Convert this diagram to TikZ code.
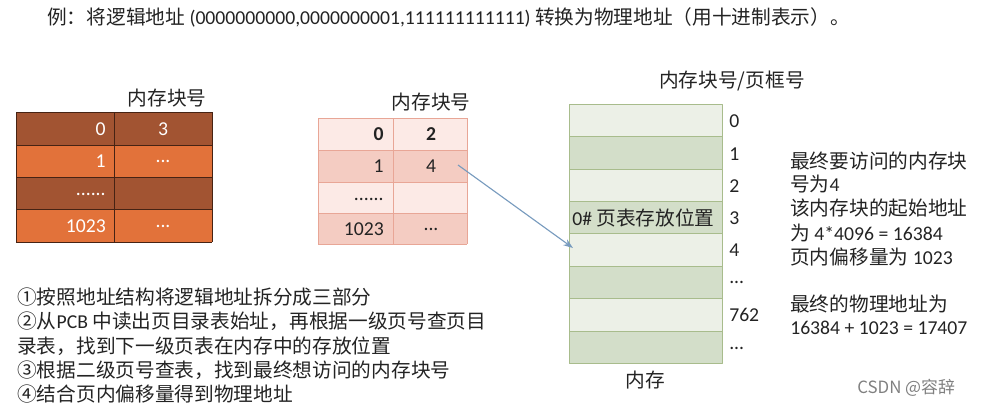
\documentclass[tikz,border=0pt]{standalone}
\usepackage{fontspec}
\setmainfont{Carlito}
\newfontfamily\zhfont{Noto Sans CJK SC}
\newcommand\zh[1]{{\zhfont #1}}
\newcommand\tdots{...}
\usetikzlibrary{calc,arrows.meta}
\definecolor{txtgray}{RGB}{35,35,35}
\definecolor{brdark}{RGB}{162,84,50}
\definecolor{brlight}{RGB}{226,114,58}
\definecolor{brline}{RGB}{70,35,20}
\definecolor{pklight}{RGB}{252,234,230}
\definecolor{pkdark}{RGB}{244,204,194}
\definecolor{pkline}{RGB}{232,166,150}
\definecolor{mlight}{RGB}{236,240,231}
\definecolor{mdark}{RGB}{211,222,201}
\definecolor{mline}{RGB}{168,188,140}
\definecolor{ptrblue}{RGB}{120,155,190}
\tikzset{
    txt/.style={
        font=\fontsize{14}{17}\selectfont, text=txtgray, inner sep=0pt
    },
    wnum/.style={txt, text=white},
    ptr/.style={ptrblue, line width=0.8pt, -{Stealth[length=7pt,width=5pt]}}
}
\begin{document}
\begin{tikzpicture}[x=0.025cm,y=-0.025cm,line join=round]
    \useasboundingbox (0,0) rectangle (982,410);

% title line
    \node[txt, anchor=west] (title) at (47,17)
        {\zh{例：将逻辑地址} (0000000000,0000000001,111111111111) \zh{转换为物理地址（用十进制表示）。}};

% --- first-level page table (brown) ---
    \fill[brdark]  (16,112) rectangle (212,145);
    \fill[brlight] (16,145) rectangle (212,177);
    \fill[brdark]  (16,177) rectangle (212,209);
    \fill[brlight] (16,209) rectangle (212,242);
    \foreach \y in {112,145,177,209,242} \draw[brline, line width=0.7pt] (16,\y) -- (212,\y);
    \foreach \x in {16,114,212} \draw[brline, line width=0.7pt] (\x,112) -- (\x,242);
    \node[txt] (hdA) at (167,98) {\zh{内存块号}};
    \node[wnum, anchor=east] (pA0) at (106,129) {0};
    \node[wnum] (fA0) at (163,129) {3};
    \node[wnum, anchor=east] (pA1) at (106,161) {1};
    \node[wnum] (fA1) at (163,161) {...};
    \node[wnum, anchor=east] (pA2) at (106,194) {......};
    \node[wnum, anchor=east] (pA3) at (106,226) {1023};
    \node[wnum] (fA3) at (163,226) {...};

% --- second-level page table (pink) ---
    \fill[pklight] (318,118) rectangle (467,150);
    \fill[pkdark]  (318,150) rectangle (467,182);
    \fill[pklight] (318,182) rectangle (467,213);
    \fill[pkdark]  (318,213) rectangle (467,244);
    \foreach \y in {118,150,182,213,244} \draw[pkline] (318,\y) -- (467,\y);
    \foreach \x in {318,393,467} \draw[pkline] (\x,118) -- (\x,244);
    \node[txt] (hdB) at (431,102) {\zh{内存块号}};
    \node[txt, anchor=east, font=\fontsize{14}{17}\selectfont\bfseries] (pB0) at (384,134) {0};
    \node[txt, font=\fontsize{14}{17}\selectfont\bfseries] (fB0) at (431,134) {2};
    \node[txt, anchor=east] (pB1) at (384,166) {1};
    \node[txt] (fB1) at (431,166) {4};
    \node[txt, anchor=east] (pB2) at (384,199) {......};
    \node[txt, anchor=east] (pB3) at (384,229) {1023};
    \node[txt] (fB3) at (431,229) {...};

% --- main memory (green) ---
    \foreach \yt/\yb/\c in {104/136.5/mlight, 136.5/169/mdark, 169/201/mlight, 201/233.5/mdark,
                            233.5/266/mlight, 266/298.5/mdark, 298.5/331/mlight, 331/363.5/mdark}
        \fill[\c] (569,\yt) rectangle (722,\yb);
    \foreach \y in {136.5,169,201,233.5,266,298.5,331} \draw[mline] (569,\y) -- (722,\y);
    \draw[mline] (569,104) rectangle (722,363.5);
    \node[txt] (hdM) at (732,81) {\zh{内存块号/页框号}};
    \node[txt] (memcap) at (645,380) {\zh{内存}};
    \node[txt, anchor=west] (ptpos) at (572,218) {0\# \zh{页表存放位置}};
    \foreach \lab/\y [count=\k] in {0/121,1/154,2/186,3/218,4/250,\tdots/282,762/315,\tdots/348}
        \node[txt, anchor=west] (mlab\k) at (729,\y) {\lab};

% pointer from entry 4 to frame 4
    \coordinate (arrS) at (458,165);
    \coordinate (arrE) at (573,248);
    \draw[ptr] (arrS) -- (arrE);

% explanation on the right
    \node[txt, anchor=west] (rA) at (790,161) {\zh{最终要访问的内存块}};
    \node[txt, anchor=west] (rB) at (790,184) {\zh{号为}4};
    \node[txt, anchor=west] (rC) at (790,208) {\zh{该内存块的起始地址}};
    \node[txt, anchor=west] (rD) at (790,233) {\zh{为} 4*4096 = 16384};
    \node[txt, anchor=west] (rE) at (790,257) {\zh{页内偏移量为} 1023};
    \node[txt, anchor=west] (rF) at (790,304) {\zh{最终的物理地址为}};
    \node[txt, anchor=west] (rG) at (790,328) {16384 + 1023 = 17407};

% steps below the tables
    \node[txt, anchor=west] (st1) at (17,297) {\zh{①按照地址结构将逻辑地址拆分成三部分}};
    \node[txt, anchor=west] (st2) at (17,321) {\zh{②从}PCB \zh{中读出页目录表始址，再根据一级页号查页目}};
    \node[txt, anchor=west] (st3) at (17,346) {\zh{录表，找到下一级页表在内存中的存放位置}};
    \node[txt, anchor=west] (st4) at (17,370) {\zh{③根据二级页号查表，找到最终想访问的内存块号}};
    \node[txt, anchor=west] (st5) at (17,394) {\zh{④结合页内偏移量得到物理地址}};

% watermark
    \node[txt, text=gray, font=\fontsize{12}{14}\zhfont, anchor=west] (mark) at (857,388) {CSDN @容辞};

\end{tikzpicture}
\end{document}
